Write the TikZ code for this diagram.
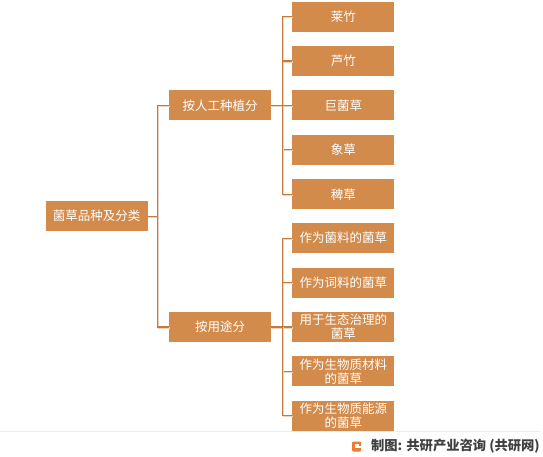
\documentclass[tikz,border=0pt]{standalone}
\usepackage{fontspec}
\newfontfamily\cjk{Noto Sans CJK SC}
\usetikzlibrary{positioning,calc}
\definecolor{boxc}{HTML}{D38B4C}
\definecolor{linkc}{HTML}{C47B40}
\definecolor{shadc}{HTML}{EDD3BE}
\definecolor{footc}{HTML}{404040}
\definecolor{logoc}{HTML}{EE7A35}

\begin{document}
\begin{tikzpicture}[x=1pt,y=-1pt,node distance=14pt and 21pt,
    box/.style={fill=boxc,text=white,minimum width=102pt,minimum height=30pt,inner sep=0pt,align=center,font=\cjk\fontsize{12.5}{14}\selectfont},
    link/.style={draw=linkc,line width=1.2pt,preaction={draw=shadc,line width=1.2pt,transform canvas={shift={(0.9pt,-0.9pt)}}}}]
    \useasboundingbox (0,0) rectangle (543,457);
    % middle level and root
    \node[box](byplant) at (220,105.5){按人工种植分};
    \node[box](byuse) at (220,327){按用途分};
    \coordinate (mid) at ($(byplant.west)!0.5!(byuse.west)$);
    \node[box](root)[left=21pt of mid]{菌草品种及分类};
    % leaves by planting
    \node[box](p3)[right=of byplant]{巨菌草};
    \node[box](p2)[above=of p3]{芦竹};
    \node[box](p1)[above=of p2]{莱竹};
    \node[box](p4)[below=of p3]{象草};
    \node[box](p5)[below=of p4]{稗草};
    % leaves by use
    \node[box](u3)[right=of byuse]{用于生态治理的\\菌草};
    \node[box](u2)[above=of u3]{作为词料的菌草};
    \node[box](u1)[above=of u2]{作为菌料的菌草};
    \node[box](u4)[below=of u3]{作为生物质材料\\的菌草};
    \node[box](u5)[below=of u4]{作为生物质能源\\的菌草};
    % connectors
    \draw[link](root.east) -- ++(10,0) |- (byplant.west);
    \draw[link](root.east) -- ++(10,0) |- (byuse.west);
    \draw[link](byplant.east) -- ++(11,0) |- (p1.west);
    \draw[link](byplant.east) -- ++(11,0) |- (p2.west);
    \draw[link](byplant.east) -- (p3.west);
    \draw[link](byplant.east) -- ++(11,0) |- (p4.west);
    \draw[link](byplant.east) -- ++(11,0) |- (p5.west);
    \draw[link](byuse.east) -- ++(11,0) |- (u1.west);
    \draw[link](byuse.east) -- ++(11,0) |- (u2.west);
    \draw[link](byuse.east) -- (u3.west);
    \draw[link](byuse.east) -- ++(11,0) |- (u4.west);
    \draw[link](byuse.east) -- ++(11,0) |- (u5.west);
    % footer
    \draw[gray!15,line width=1pt] (0,431) -- (540,431);
    \node[font=\cjk\bfseries\fontsize{13.3}{15}\selectfont,text=footc,anchor=east,inner sep=0pt](src) at (540,446){制图: 共研产业咨询 (共研网)};
    \fill[logoc,rounded corners=1pt] (352,441.5) rectangle (361,451.5);
    \fill[white] (354.5,445.5) rectangle (361,447.5);
    \fill[white] (354.5,443.5) rectangle (358.5,445.5);
\end{tikzpicture}
\end{document}
